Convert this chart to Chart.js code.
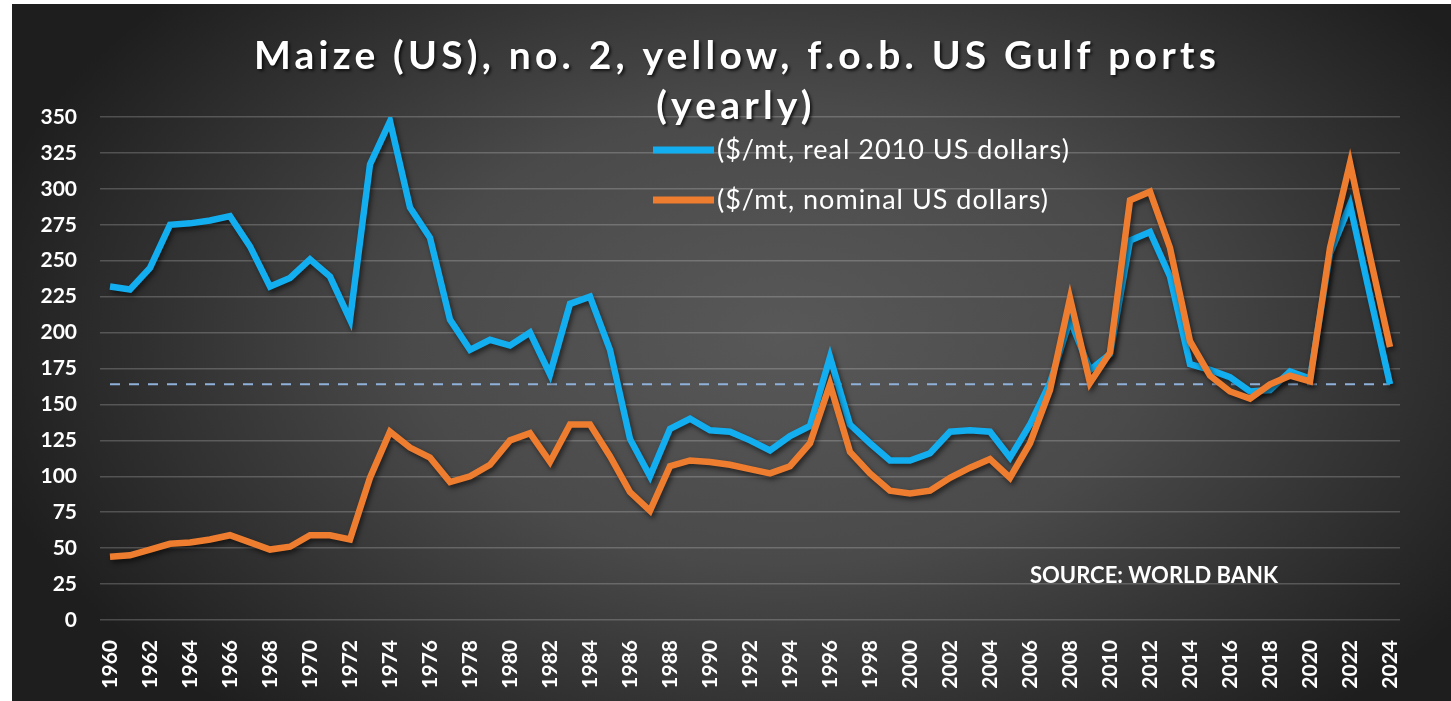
<!DOCTYPE html>
<html>
<head>
<meta charset="utf-8">
<title>Maize (US), no. 2, yellow, f.o.b. US Gulf ports</title>
<script src="https://cdn.jsdelivr.net/npm/chart.js@4/dist/chart.umd.min.js"></script>
<style>
  html, body { margin: 0; padding: 0; background: #fff; }
  #wrap { position: absolute; left: 12px; top: 4px; width: 1439px; height: 697px; }
</style>
</head>
<body>
<div id="wrap"><canvas id="maizeChart"></canvas></div>
<script>
// Yearly maize price, $/mt
const years = Array.from({ length: 65 }, (_, i) => String(1960 + i));

const realPrice = [
  232, 230, 245, 275, 276, 278, 281, 260, 232, 238,   // 1960s
  251, 239, 209, 317, 347, 287, 266, 209, 188, 195,   // 1970s
  191, 200, 171, 220, 225, 188, 126, 100, 133, 140,   // 1980s
  132, 131, 125, 118, 128, 135, 183, 136, 123, 111,   // 1990s
  111, 116, 131, 132, 131, 113, 136, 165, 209, 174,   // 2000s
  185, 264, 270, 239, 178, 174, 169, 159, 160, 173,   // 2010s
  168, 255, 289, 226, 164                             // 2020s
];

const nominalPrice = [
  44, 45, 49, 53, 54, 56, 59, 54, 49, 51,
  59, 59, 56, 99, 131, 120, 113, 96, 100, 108,
  125, 130, 110, 136, 136, 114, 89, 76, 107, 111,
  110, 108, 105, 102, 107, 123, 164, 117, 102, 90,
  88, 90, 99, 106, 112, 99, 123, 160, 224, 165,
  186, 292, 298, 259, 194, 170, 159, 154, 164, 170,
  166, 259, 318, 253, 190
];

// dashed marker at the latest real price
const refLevel = 164;

const yTicks = { min: 0, max: 350, step: 25 };

const titleLines = ["Maize (US), no. 2, yellow, f.o.b. US Gulf ports", "(yearly)"];
const seriesLabels = ["($/mt, real 2010 US dollars)", "($/mt, nominal US dollars)"];
const sourceNote = "SOURCE: WORLD BANK";

const BLUE = "#12aef0";
const ORANGE = "#ee7d30";

// ---- dark vignette background ----
const backdrop = {
  id: "backdrop",
  beforeDraw(chart) {
    const { ctx, width, height } = chart;
    ctx.save();
    ctx.fillStyle = "#1e1e1e";
    ctx.fillRect(0, 0, width, height);
    ctx.translate(770, 330);
    ctx.scale(1, 0.62);
    const g = ctx.createRadialGradient(0, 0, 0, 0, 0, 820);
    g.addColorStop(0, "#585858");
    g.addColorStop(0.45, "#4a4a4a");
    g.addColorStop(0.8, "#2e2e2e");
    g.addColorStop(1, "#1e1e1e");
    ctx.fillStyle = g;
    ctx.fillRect(-900, -900, 1800, 1800);
    ctx.restore();
  }
};

// ---- soft drop shadow under the price lines ----
const lineShadow = {
  id: "lineShadow",
  beforeDatasetDraw(chart, args) {
    const ctx = chart.ctx;
    ctx.save();
    if (args.index < 2) {
      ctx.shadowColor = "rgba(0,0,0,0.55)";
      ctx.shadowBlur = 5;
      ctx.shadowOffsetX = 2;
      ctx.shadowOffsetY = 3;
    }
  },
  afterDatasetDraw(chart) {
    chart.ctx.restore();
  }
};

// ---- title, legend and source note drawn over the plot ----
const overlay = {
  id: "overlay",
  afterDraw(chart) {
    const ctx = chart.ctx;
    ctx.save();

    // title
    ctx.font = "bold 39px Lato";
    ctx.letterSpacing = "4.2px";
    ctx.textAlign = "center";
    ctx.textBaseline = "alphabetic";
    ctx.fillStyle = "#ffffff";
    ctx.shadowColor = "rgba(0,0,0,0.7)";
    ctx.shadowBlur = 3;
    ctx.shadowOffsetX = 2;
    ctx.shadowOffsetY = 2;
    ctx.fillText(titleLines[0], 725, 65);
    ctx.fillText(titleLines[1], 724, 115);
    ctx.shadowColor = "transparent";

    // legend
    const rows = [
      { color: BLUE, label: seriesLabels[0], y: 146 },
      { color: ORANGE, label: seriesLabels[1], y: 196 }
    ];
    ctx.textAlign = "left";
    ctx.textBaseline = "middle";
    ctx.font = "27px Lato";
    ctx.letterSpacing = "1px";
    rows.forEach(r => {
      ctx.strokeStyle = r.color;
      ctx.lineWidth = 7;
      ctx.beginPath();
      ctx.moveTo(641, r.y);
      ctx.lineTo(702, r.y);
      ctx.stroke();
      ctx.fillStyle = "#ffffff";
      ctx.fillText(r.label, 705, r.y);
    });

    // source
    ctx.font = "bold 22px Lato";
    ctx.letterSpacing = "0px";
    ctx.textBaseline = "alphabetic";
    ctx.fillText(sourceNote, 1018, 579);
    ctx.restore();
  }
};

// ==============================================
// Build the chart
// ==============================================
function initializeChart() {
  const ctx = document.getElementById("maizeChart").getContext("2d");

  new Chart(ctx, {
    type: "line",
    data: {
      labels: years,
      datasets: [
        {
          label: seriesLabels[0],
          data: realPrice,
          borderColor: BLUE,
          borderWidth: 6.5,
          pointRadius: 0,
          order: 2
        },
        {
          label: seriesLabels[1],
          data: nominalPrice,
          borderColor: ORANGE,
          borderWidth: 6.5,
          pointRadius: 0,
          order: 1
        },
        {
          label: "reference",
          data: years.map(() => refLevel),
          borderColor: "#8fb1d9",
          borderWidth: 2,
          borderDash: [10, 9],
          pointRadius: 0,
          order: 3
        }
      ]
    },
    options: {
      responsive: true,
      maintainAspectRatio: false,
      animation: false,
      layout: { padding: { top: 113, right: 51, left: 0, bottom: 0 } },
      plugins: {
        legend: { display: false },
        title: { display: false },
        tooltip: { enabled: false }
      },
      scales: {
        x: {
          offset: true,
          grid: { display: false },
          border: { display: false },
          afterFit(scale) { scale.height = 81; },
          ticks: {
            autoSkip: false,
            minRotation: 90,
            maxRotation: 90,
            padding: 12,
            color: "#ffffff",
            font: { family: "Lato", weight: "bold", size: 21 },
            callback(value, index) {
              return index % 2 === 0 ? years[index] : "";
            }
          }
        },
        y: {
          min: yTicks.min,
          max: yTicks.max,
          grid: { color: "rgba(255,255,255,0.2)", lineWidth: 1.5, drawTicks: false },
          border: { display: false },
          afterFit(scale) { scale.width = 88; },
          ticks: {
            stepSize: yTicks.step,
            padding: 23,
            color: "#ffffff",
            font: { family: "Lato", weight: "bold", size: 21 }
          }
        }
      }
    },
    plugins: [backdrop, lineShadow, overlay]
  });
}

document.addEventListener("DOMContentLoaded", initializeChart);
</script>
</body>
</html>
